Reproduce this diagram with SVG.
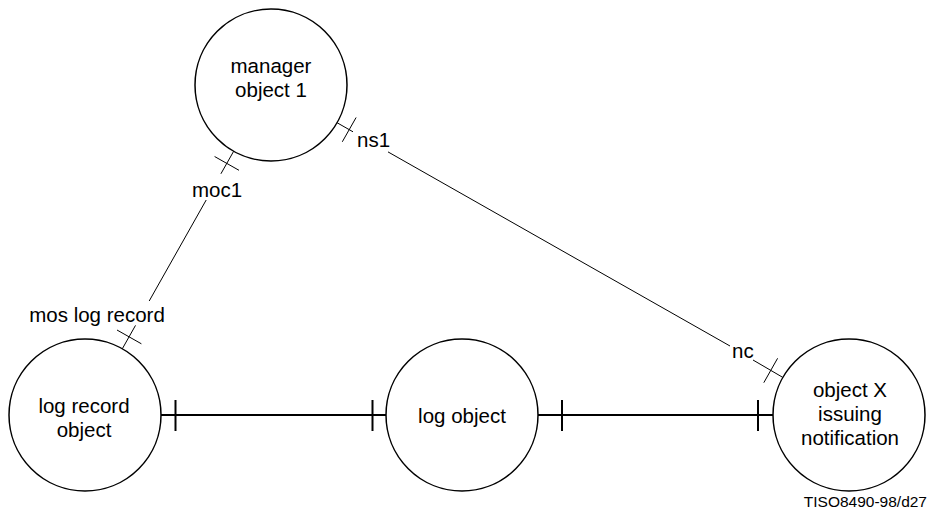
<svg xmlns="http://www.w3.org/2000/svg" width="930" height="513" viewBox="0 0 930 513">
<style>
.node{fill:#fff;stroke:#000;stroke-width:1.5}
.lbl{font-family:"Liberation Sans",Arial,sans-serif;font-size:20.5px;fill:#000}
.c{text-anchor:middle}
.thin{stroke:#000;stroke-width:1;fill:none}
.thick{stroke:#000;stroke-width:2;fill:none}
</style>
<rect width="930" height="513" fill="#fff"/>
<g id="connectors">
<g id="conn-moc1">
<line class="thin" x1="233.7" y1="151.2" x2="220.9" y2="173.8"/>
<line class="thin" x1="206.2" y1="200" x2="149.2" y2="301"/>
<line class="thin" x1="135.5" y1="325.4" x2="122.3" y2="348.8"/>
<line class="thin" x1="214.6" y1="156.5" x2="239" y2="170.3"/>
<line class="thin" x1="117" y1="330" x2="141.4" y2="343.8"/>
<text class="lbl c" x="217" y="197">moc1</text>
<text class="lbl c" x="97" y="322">mos log record</text>
</g>
<g id="conn-ns1">
<line class="thin" x1="337" y1="122.7" x2="353" y2="131.8"/>
<line class="thin" x1="388" y1="151.9" x2="730" y2="346"/>
<line class="thin" x1="753" y1="360" x2="782.8" y2="377.4"/>
<line class="thin" x1="356.1" y1="117.5" x2="342.3" y2="141.8"/>
<line class="thin" x1="777.6" y1="358.3" x2="763.8" y2="382.7"/>
<text class="lbl" x="357" y="147">ns1</text>
<text class="lbl" x="732" y="358">nc</text>
</g>
<g id="conn-h1">
<line class="thick" x1="161" y1="415" x2="387" y2="415"/>
<line class="thick" x1="175.5" y1="400" x2="175.5" y2="431"/>
<line class="thick" x1="372.5" y1="400" x2="372.5" y2="431"/>
</g>
<g id="conn-h2">
<line class="thick" x1="538" y1="415" x2="773" y2="415"/>
<line class="thick" x1="562" y1="400" x2="562" y2="431"/>
<line class="thick" x1="758" y1="400" x2="758" y2="431"/>
</g>
</g>
<g id="manager">
<circle class="node" cx="271" cy="85" r="76"/>
<text class="lbl c" x="271" y="73">manager</text>
<text class="lbl c" x="271" y="97">object 1</text>
</g>
<g id="logrecord">
<circle class="node" cx="85" cy="415" r="76"/>
<text class="lbl c" x="84" y="413">log record</text>
<text class="lbl c" x="84" y="437">object</text>
</g>
<g id="logobject">
<circle class="node" cx="462" cy="415" r="76"/>
<text class="lbl c" x="462" y="423">log object</text>
</g>
<g id="objectx">
<circle class="node" cx="849" cy="415" r="76"/>
<text class="lbl c" x="850" y="397">object X</text>
<text class="lbl c" x="850" y="421">issuing</text>
<text class="lbl c" x="850" y="445">notification</text>
</g>
<text class="lbl" style="font-size:15.5px;text-anchor:end" x="927" y="507">TISO8490-98/d27</text>
</svg>
